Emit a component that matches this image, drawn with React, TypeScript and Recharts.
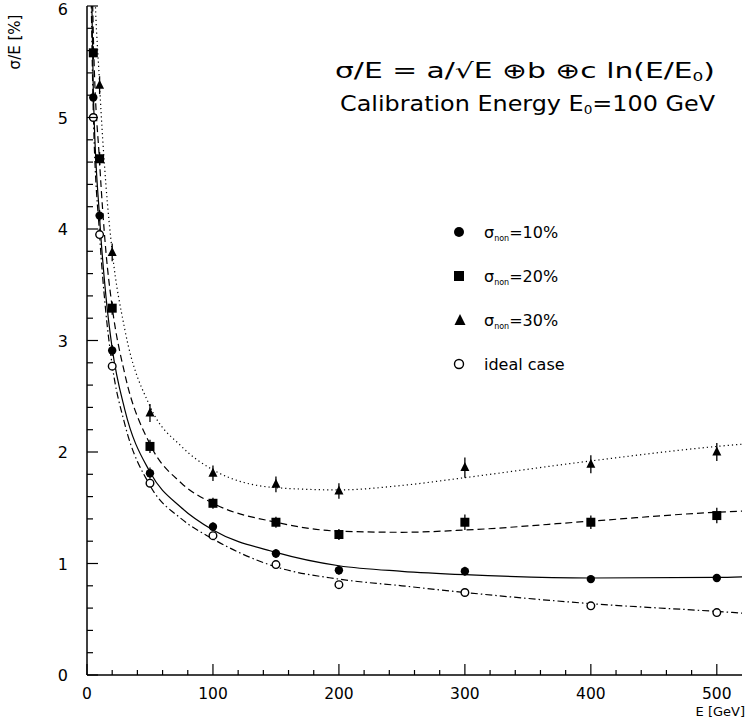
import React from 'react';
import { ComposedChart, Line, Scatter, XAxis, YAxis, ErrorBar } from 'recharts';

// ---- measured points (E in GeV, sigma/E in %) ----
const energies = [5, 10, 20, 50, 100, 150, 200, 300, 400, 500];
const sigma10 = [5.18, 4.12, 2.91, 1.81, 1.33, 1.09, 0.94, 0.93, 0.86, 0.87];
const sigma20 = [5.58, 4.63, 3.29, 2.05, 1.54, 1.37, 1.26, 1.37, 1.37, 1.43];
const sigma30 = [null, 5.29, 3.79, 2.35, 1.81, 1.71, 1.65, 1.86, 1.89, 2.0];
const idealPts = [5.0, 3.95, 2.77, 1.72, 1.25, 0.99, 0.81, 0.74, 0.62, 0.56];
const err10 = [0.05, 0.05, 0.05, 0.05, 0.04, 0.04, 0.04, 0.04, 0.03, 0.03];
const err20 = [0.06, 0.06, 0.06, 0.06, 0.05, 0.05, 0.05, 0.07, 0.06, 0.07];
const err30 = [0.08, 0.08, 0.08, 0.08, 0.07, 0.07, 0.07, 0.09, 0.08, 0.08];

// ---- fitted curves ----
const curveE = [3, 5, 10, 15, 20, 30, 50, 75, 100, 150, 200, 250, 300, 400, 500, 520];
const fit10 = [6.6, 5.25, 4.1, 3.4, 2.93, 2.38, 1.82, 1.5, 1.3, 1.1, 0.98, 0.93, 0.9, 0.87, 0.875, 0.88];
const fit20 = [7.2, 5.75, 4.6, 3.8, 3.3, 2.7, 2.07, 1.72, 1.54, 1.37, 1.29, 1.28, 1.3, 1.38, 1.46, 1.47];
const fit30 = [8.4, 6.7, 5.3, 4.4, 3.8, 3.1, 2.41, 2.05, 1.84, 1.68, 1.66, 1.7, 1.77, 1.92, 2.05, 2.07];
const fitIdeal = [6.3, 5.05, 3.95, 3.25, 2.78, 2.25, 1.7, 1.4, 1.22, 0.97, 0.86, 0.8, 0.74, 0.64, 0.57, 0.555];

// ---- axes ----
const xMajorTicks = [0, 100, 200, 300, 400, 500];
const yMajorTicks = [0, 1, 2, 3, 4, 5, 6];
const xTicks: number[] = [];
for (let v = 0; v <= 500; v += 20) xTicks.push(v);
const yTicks: number[] = [];
for (let i = 0; i <= 30; i++) yTicks.push(Math.round(i * 2) / 10);

const legendLabels = ['=10%', '=20%', '=30%', 'ideal case'];
const formulaText = 'σ/E = a/√E ⊕b ⊕c ln(E/E';
const calibText = 'Calibration Energy E';

const FONT = '"DejaVu Sans", "Liberation Sans", sans-serif';
const W = 748;
const H = 720;

const mk = (ys: (number | null)[], errs?: number[]) =>
  energies
    .map((e, i) => ({ x: e, y: ys[i], err: errs ? errs[i] : 0 }))
    .filter((d) => d.y !== null);
const mkCurve = (ys: number[]) => curveE.map((e, i) => ({ x: e, y: ys[i] }));

const isMajor = (v: number, list: number[]) => list.some((m) => Math.abs(m - v) < 1e-6);

const BottomTick = (props: any) => {
  const { x, y, payload } = props;
  const v = payload.value;
  const major = isMajor(v, xMajorTicks);
  return (
    <g>
      <line x1={x} y1={y} x2={x} y2={y - (major ? 11 : 5)} stroke="#000" strokeWidth={1.2} />
      {major && (
        <text x={x} y={y + 24} textAnchor="middle" fontSize={15.5} fontFamily={FONT} fill="#000">
          {v}
        </text>
      )}
    </g>
  );
};
const TopTick = (props: any) => {
  const { x, y, payload } = props;
  const major = isMajor(payload.value, xMajorTicks);
  return <line x1={x} y1={y} x2={x} y2={y + (major ? 11 : 5)} stroke="#000" strokeWidth={1.2} />;
};
const LeftTick = (props: any) => {
  const { x, y, payload } = props;
  const v = payload.value;
  const major = isMajor(v, yMajorTicks);
  return (
    <g>
      <line x1={x} y1={y} x2={x + (major ? 11 : 6)} y2={y} stroke="#000" strokeWidth={1.2} />
      {major && (
        <text x={x - 19} y={Math.max(y + 6, 15)} textAnchor="end" fontSize={16} fontFamily={FONT} fill="#000">
          {Math.round(v)}
        </text>
      )}
    </g>
  );
};
const RightTick = (props: any) => {
  const { x, y, payload } = props;
  const major = isMajor(payload.value, yMajorTicks);
  return <line x1={x} y1={y} x2={x - (major ? 11 : 6)} y2={y} stroke="#000" strokeWidth={1.2} />;
};

const FilledCircle = (p: any) => <circle cx={p.cx} cy={p.cy} r={4.2} fill="#000" />;
const OpenCircle = (p: any) => <circle cx={p.cx} cy={p.cy} r={3.8} fill="#fff" stroke="#000" strokeWidth={1.4} />;
const FilledSquare = (p: any) => <rect x={p.cx - 4.5} y={p.cy - 4.5} width={9} height={9} fill="#000" />;
const FilledTriangle = (p: any) => (
  <polygon points={`${p.cx},${p.cy - 5.5} ${p.cx - 4.5},${p.cy + 3.5} ${p.cx + 4.5},${p.cy + 3.5}`} fill="#000" />
);

const Sigma = ({ x, y, label }: { x: number; y: number; label: string }) => (
  <text x={x} y={y} fontSize={16} fontFamily={FONT} fill="#000">
    σ
    <tspan fontSize={8} dy={3}>non</tspan>
    <tspan fontSize={16} dy={-3}>{label}</tspan>
  </text>
);

export default function App() {
  const lineStyle = { stroke: '#000', strokeWidth: 1.2, fill: 'none' };
  return (
    <div style={{ position: 'absolute', left: 0, top: 0, width: W, height: H, background: '#fff' }}>
      <ComposedChart width={W} height={H} margin={{ top: 6, right: 6, bottom: 10, left: 27 }}>
        <XAxis
          xAxisId={0}
          type="number"
          dataKey="x"
          domain={[0, 520]}
          allowDataOverflow
          ticks={xTicks}
          interval={0}
          tickSize={0}
          tickMargin={0}
          tickLine={false}
          tick={BottomTick}
          height={35}
          axisLine={{ stroke: '#000', strokeWidth: 1.5 }}
        />
        <XAxis
          xAxisId="top"
          orientation="top"
          type="number"
          domain={[0, 520]}
          ticks={xTicks}
          interval={0}
          tickSize={0}
          tickMargin={0}
          tickLine={false}
          tick={TopTick}
          height={0}
          axisLine={{ stroke: '#000', strokeWidth: 1.5 }}
        />
        <YAxis
          yAxisId={0}
          type="number"
          dataKey="y"
          domain={[0, 6]}
          allowDataOverflow
          ticks={yTicks}
          interval={0}
          tickSize={0}
          tickMargin={0}
          tickLine={false}
          tick={LeftTick}
          width={60}
          axisLine={{ stroke: '#000', strokeWidth: 1.5 }}
        />
        <YAxis
          yAxisId="right"
          orientation="right"
          type="number"
          domain={[0, 6]}
          ticks={yTicks}
          interval={0}
          tickSize={0}
          tickMargin={0}
          tickLine={false}
          tick={RightTick}
          width={0}
          axisLine={{ stroke: '#000', strokeWidth: 1.5 }}
        />

        <Line data={mkCurve(fit30)} dataKey="y" type="monotone" dot={false} isAnimationActive={false} {...lineStyle} strokeDasharray="1.2 3" />
        <Line data={mkCurve(fit20)} dataKey="y" type="monotone" dot={false} isAnimationActive={false} {...lineStyle} strokeDasharray="7 4" />
        <Line data={mkCurve(fit10)} dataKey="y" type="monotone" dot={false} isAnimationActive={false} {...lineStyle} />
        <Line data={mkCurve(fitIdeal)} dataKey="y" type="monotone" dot={false} isAnimationActive={false} {...lineStyle} strokeDasharray="7 3 1.5 3" />

        <Scatter data={mk(sigma30, err30)} dataKey="y" shape={FilledTriangle} isAnimationActive={false}>
          <ErrorBar dataKey="err" direction="y" width={0} stroke="#000" strokeWidth={1.3} />
        </Scatter>
        <Scatter data={mk(sigma20, err20)} dataKey="y" shape={FilledSquare} isAnimationActive={false}>
          <ErrorBar dataKey="err" direction="y" width={0} stroke="#000" strokeWidth={1.3} />
        </Scatter>
        <Scatter data={mk(sigma10, err10)} dataKey="y" shape={FilledCircle} isAnimationActive={false}>
          <ErrorBar dataKey="err" direction="y" width={0} stroke="#000" strokeWidth={1.3} />
        </Scatter>
        <Scatter data={mk(idealPts)} dataKey="y" shape={OpenCircle} isAnimationActive={false} />
      </ComposedChart>

      <svg width={W} height={H} style={{ position: 'absolute', left: 0, top: 0, pointerEvents: 'none' }}>
        <text x={20} y={42} transform="rotate(-90 20 42)" textAnchor="middle" fontSize={15} fontFamily={FONT} fill="#000">
          σ/E [%]
        </text>
        <text x={745} y={716} textAnchor="end" fontSize={13} fontFamily={FONT} fill="#000">
          E [GeV]
        </text>
        <text x={335} y={78} fontSize={21} fontFamily={FONT} fill="#000" textLength={380} lengthAdjust="spacingAndGlyphs">
          {formulaText}
          <tspan fontSize={12} dy={3}>0</tspan>
          <tspan fontSize={21} dy={-3}>)</tspan>
        </text>
        <text x={340} y={111} fontSize={21} fontFamily={FONT} fill="#000" textLength={375} lengthAdjust="spacingAndGlyphs">
          {calibText}
          <tspan fontSize={12} dy={3}>0</tspan>
          <tspan fontSize={21} dy={-3}>=100 GeV</tspan>
        </text>

        <circle cx={459} cy={232} r={5} fill="#000" />
        <Sigma x={484} y={238} label={legendLabels[0]} />
        <rect x={454} y={271} width={10} height={10} fill="#000" />
        <Sigma x={484} y={282} label={legendLabels[1]} />
        <polygon points="460,314 454.5,325 465.5,325" fill="#000" />
        <Sigma x={484} y={326} label={legendLabels[2]} />
        <circle cx={459} cy={364} r={4.5} fill="#fff" stroke="#000" strokeWidth={1.4} />
        <text x={484} y={370} fontSize={16} fontFamily={FONT} fill="#000">
          {legendLabels[3]}
        </text>
      </svg>
    </div>
  );
}
